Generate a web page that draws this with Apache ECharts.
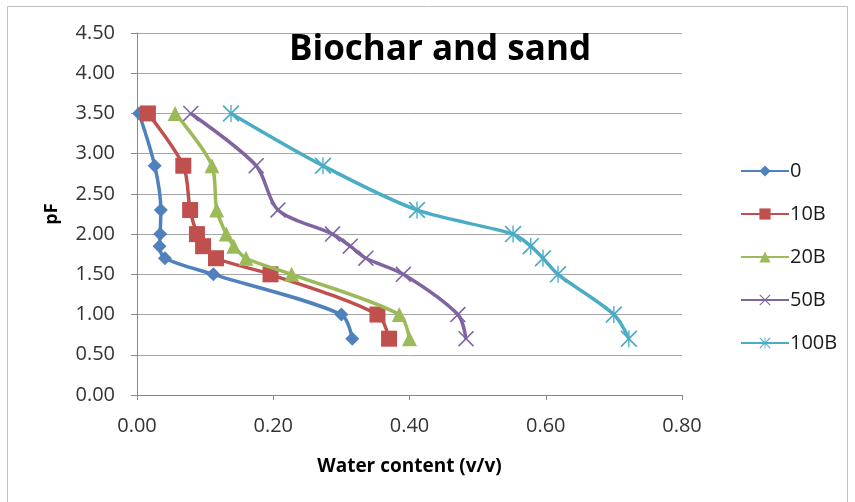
<!DOCTYPE html>
<html><head><meta charset="utf-8">
<script src="https://cdn.jsdelivr.net/npm/echarts@6/dist/echarts.min.js"></script>
<style>html,body{margin:0;padding:0;background:#fff}#c{width:855px;height:502px}</style>
</head><body><div id="c"></div>
<script>
const pF = [3.5, 2.85, 2.3, 2.0, 1.85, 1.7, 1.5, 1.0, 0.7];
const seriesNames = ['0', '10B', '20B', '50B', '100B'];
const w0    = [0.003, 0.026, 0.035, 0.034, 0.033, 0.041, 0.112, 0.300, 0.316];
const w10B  = [0.016, 0.068, 0.078, 0.088, 0.097, 0.116, 0.196, 0.353, 0.370];
const w20B  = [0.056, 0.110, 0.117, 0.131, 0.142, 0.160, 0.227, 0.385, 0.400];
const w50B  = [0.079, 0.175, 0.207, 0.287, 0.313, 0.336, 0.391, 0.471, 0.483];
const w100B = [0.138, 0.273, 0.411, 0.552, 0.578, 0.596, 0.618, 0.700, 0.722];
const xTicks = [0, 0.2, 0.4, 0.6, 0.8];
const yTicks = [0, 0.5, 1, 1.5, 2, 2.5, 3, 3.5, 4, 4.5];

const colors = ['#4F81BD', '#C0504D', '#9BBB59', '#8064A2', '#4BACC6'];
const xPath = 'path://M1.4,0L20,18.6L18.6,20L0,1.4ZM18.6,0L20,1.4L1.4,20L0,18.6Z';
const starPath = 'path://M1.4,0L20,18.6L18.6,20L0,1.4ZM18.6,0L20,1.4L1.4,20L0,18.6ZM9.2,0L10.8,0L10.8,20L9.2,20Z';
const symbols = ['diamond', 'rect', 'triangle', xPath, starPath];
const sizes = [14, 16, 15, 16, 17];
const allW = [w0, w10B, w20B, w50B, w100B];
const FONT = 'Open Sans';

const chart = echarts.init(document.getElementById('c'), null, {renderer: 'canvas'});
chart.setOption({
  animation: false,
  textStyle: {fontFamily: FONT},
  graphic: [{type: 'rect', shape: {x: 7.5, y: 6.5, width: 840, height: 510}, style: {fill: 'none', stroke: '#bfbfbf', lineWidth: 1}, silent: true}],
  title: {text: 'Biochar and sand', left: 435, top: 28, textAlign: 'center',
    textStyle: {fontFamily: FONT, fontSize: 35, fontWeight: 'bold', color: '#000'}},
  grid: {left: 137, right: 173, top: 33, bottom: 107, containLabel: false},
  legend: {orient: 'vertical', left: 735, top: 156, itemWidth: 48, itemHeight: 14, itemGap: 23,
    data: seriesNames,
    textStyle: {fontFamily: FONT, fontSize: 20, color: '#1a1a1a', padding: [0, 0, 0, -4]}},
  xAxis: {type: 'value', min: 0, max: 0.8, interval: 0.2,
    name: 'Water content (v/v)', nameLocation: 'middle', nameGap: 62,
    nameTextStyle: {fontFamily: FONT, fontSize: 19, fontWeight: 'bold', color: '#000'},
    axisLine: {show: true, lineStyle: {color: '#888', width: 1}},
    axisTick: {show: true, length: 5, lineStyle: {color: '#888'}},
    axisLabel: {fontFamily: FONT, fontSize: 20, color: '#333', margin: 21, formatter: v => v.toFixed(2)},
    splitLine: {show: false}},
  yAxis: {type: 'value', min: 0, max: 4.5, interval: 0.5,
    name: 'pF', nameLocation: 'middle', nameGap: 76, nameRotate: 90,
    nameTextStyle: {fontFamily: FONT, fontSize: 18, fontWeight: 'bold', color: '#000'},
    axisLine: {show: true, lineStyle: {color: '#888', width: 1}},
    axisTick: {show: true, length: 6, lineStyle: {color: '#888'}},
    axisLabel: {fontFamily: FONT, fontSize: 20, color: '#333', margin: 22, formatter: v => v.toFixed(2)},
    splitLine: {show: true, lineStyle: {color: '#a6a6a6', width: 1}}},
  series: seriesNames.map((n, i) => ({
    name: n, type: 'line', smooth: 0.3,
    data: allW[i].map((w, j) => [w, pF[j]]),
    symbol: symbols[i], symbolSize: sizes[i], showAllSymbol: true,
    itemStyle: {color: colors[i]},
    lineStyle: {color: colors[i], width: 3.5},
    z: 2 + i
  }))
});
</script></body></html>
